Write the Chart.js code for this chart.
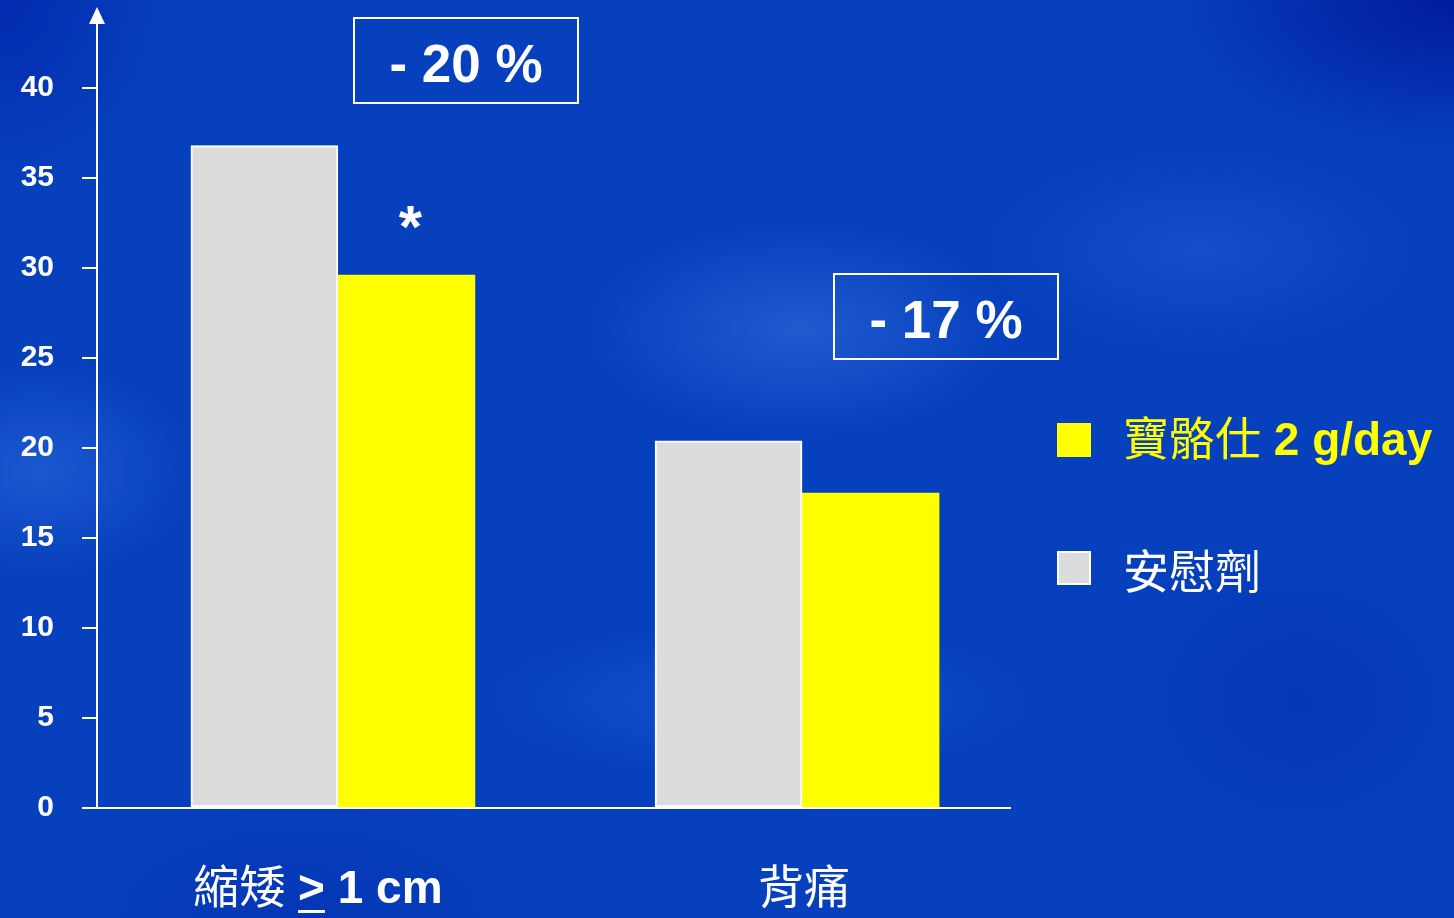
<!DOCTYPE html>
<html>
<head>
<meta charset="utf-8">
<script src="https://cdn.jsdelivr.net/npm/chart.js@4.4.1/dist/chart.umd.min.js"></script>
<style>
html, body { margin: 0; padding: 0; }
body {
    width: 1454px; height: 918px; overflow: hidden;
    background:
        radial-gradient(ellipse 300px 150px at 800px 330px, rgba(70,130,235,0.4), rgba(70,130,235,0) 70%),
        radial-gradient(ellipse 220px 150px at 40px 470px, rgba(60,125,235,0.4), rgba(60,125,235,0) 70%),
        radial-gradient(ellipse 380px 110px at 760px 700px, rgba(40,115,230,0.4), rgba(40,115,230,0) 70%),
        radial-gradient(ellipse 300px 140px at 1200px 250px, rgba(50,110,230,0.3), rgba(50,110,230,0) 70%),
        radial-gradient(ellipse 420px 220px at 1454px 0px, rgba(0,20,150,0.85), rgba(0,20,150,0) 70%),
        radial-gradient(ellipse 260px 280px at 0px 0px, rgba(0,30,165,0.6), rgba(0,30,165,0) 70%),
        radial-gradient(ellipse 400px 200px at 300px 918px, rgba(0,40,170,0.4), rgba(0,40,170,0) 70%),
        radial-gradient(ellipse 300px 250px at 1300px 700px, rgba(0,40,170,0.4), rgba(0,40,170,0) 70%),
        #0640bd;
}
#wrap { position: relative; width: 1454px; height: 918px; }
</style>
</head>
<body>
<div id="wrap"><canvas id="myChart"></canvas></div>
<script>
const categories = ['縮矮 ≥ 1 cm', '背痛'];
const drugName = '寶骼仕 2 g/day';
const placeboName = '安慰劑';
const drugValues = [29.6, 17.5];
const placeboValues = [36.8, 20.4];
const yTicks = [0, 5, 10, 15, 20, 25, 30, 35, 40];
const changeLabels = ['- 20 %', '- 17 %'];
const starLabels = ['*', ''];

const LAT = '"Liberation Sans", Arial, sans-serif';
const CJKFONT = '"Noto Sans CJK TC", "Noto Sans CJK SC", sans-serif';
const CJK = /[\u2E80-\u9FFF\uF900-\uFAFF]/;

// split text into cjk / latin runs, "≥" drawn as underlined ">"
function runs(text) {
    const out = [];
    for (const ch of text) {
        const kind = ch === '≥' ? 'ge' : CJK.test(ch) ? 'cjk' : 'lat';
        const last = out[out.length - 1];
        if (last && last.kind === kind && kind !== 'ge') last.text += ch;
        else out.push({ kind, text: ch });
    }
    return out;
}
function fontFor(kind, size) {
    return kind === 'cjk' ? `400 ${size}px ${CJKFONT}` : `bold ${size}px ${LAT}`;
}
function drawMixed(ctx, text, x, y, size, color, align) {
    const parts = runs(text);
    let total = 0;
    parts.forEach(p => {
        ctx.font = fontFor(p.kind, size);
        p.w = ctx.measureText(p.kind === 'ge' ? '>' : p.text).width;
        total += p.w;
    });
    let cx = align === 'center' ? x - total / 2 : x;
    ctx.fillStyle = color;
    ctx.textAlign = 'left';
    ctx.textBaseline = 'alphabetic';
    parts.forEach(p => {
        ctx.font = fontFor(p.kind, size);
        if (p.kind === 'ge') {
            ctx.fillText('>', cx, y);
            ctx.fillRect(cx, y + 7, p.w, 3);
        } else {
            ctx.fillText(p.text, cx, y);
        }
        cx += p.w;
    });
}

const extras = {
    id: 'extras',
    afterDraw(chart) {
        const ctx = chart.ctx;
        const area = chart.chartArea;
        const x = chart.scales.x;
        ctx.save();

        // y axis extension with arrow head
        ctx.strokeStyle = '#fff';
        ctx.lineWidth = 2;
        ctx.beginPath();
        ctx.moveTo(area.left, area.top);
        ctx.lineTo(area.left, 22);
        ctx.stroke();
        ctx.fillStyle = '#fff';
        ctx.beginPath();
        ctx.moveTo(area.left - 8, 24);
        ctx.lineTo(area.left + 8, 24);
        ctx.lineTo(area.left, 7);
        ctx.closePath();
        ctx.fill();

        // category labels
        categories.forEach((c, i) => {
            const cx = x.getPixelForValue(i) - (i === 0 ? 20 : -2);
            drawMixed(ctx, c, cx, 903, 46, '#fff', 'center');
        });

        // significance star above drug bar
        const drugMeta = chart.getDatasetMeta(1);
        starLabels.forEach((s, i) => {
            if (!s) return;
            const bar = drugMeta.data[i];
            ctx.fillStyle = '#fff';
            ctx.font = `bold 60px ${LAT}`;
            ctx.textAlign = 'center';
            ctx.textBaseline = 'alphabetic';
            ctx.fillText(s, bar.x + 4, bar.y - 28);
        });

        // change boxes
        const boxes = [[354, 18, 224, 85], [834, 274, 224, 85]];
        changeLabels.forEach((t, i) => {
            const [bx, by, bw, bh] = boxes[i];
            ctx.strokeStyle = '#fff';
            ctx.lineWidth = 2;
            ctx.strokeRect(bx, by, bw, bh);
            ctx.fillStyle = '#fff';
            ctx.font = `bold 53px ${LAT}`;
            ctx.textAlign = 'center';
            ctx.textBaseline = 'alphabetic';
            ctx.fillText(t, bx + bw / 2, by + 64);
        });

        // legend
        const items = [chart.data.datasets[1], chart.data.datasets[0]];
        const rows = [[423, 455], [551, 588]];
        items.forEach((ds, i) => {
            const [top, base] = rows[i];
            ctx.fillStyle = ds.backgroundColor;
            ctx.fillRect(1057, top, 34, 34);
            if (ds.borderWidth) {
                ctx.strokeStyle = ds.borderColor;
                ctx.lineWidth = 2;
                ctx.strokeRect(1058, top + 1, 32, 32);
            }
            drawMixed(ctx, ds.label, 1123, base, 46, ds.legendText, 'left');
        });

        ctx.restore();
    }
};

const ctx = document.getElementById('myChart').getContext('2d');
const myChart = new Chart(ctx, {
    type: 'bar',
    data: {
        datasets: [{
            label: placeboName,
            data: placeboValues.map((v, i) => ({ x: i, y: v })),
            backgroundColor: '#dcdcdc',
            borderColor: '#ffffff',
            borderWidth: 2,
            borderSkipped: false,
            barThickness: 147,
            legendText: '#ffffff'
        }, {
            label: drugName,
            data: drugValues.map((v, i) => ({ x: i, y: v })),
            backgroundColor: '#ffff00',
            borderWidth: 0,
            barThickness: 137,
            legendText: '#ffff00'
        }]
    },
    options: {
        responsive: true,
        maintainAspectRatio: false,
        animation: false,
        layout: { padding: { top: 88, right: 444, left: 0, bottom: 0 } },
        plugins: { legend: { display: false }, tooltip: { enabled: false } },
        scales: {
            x: {
                type: 'linear',
                offset: false,
                min: -0.519,
                max: 1.448,
                ticks: { display: false },
                grid: { display: false },
                border: { display: true, color: '#ffffff', width: 2 },
                afterFit: s => { s.height = 110; }
            },
            y: {
                min: 0,
                max: 40,
                afterBuildTicks: s => { s.ticks = yTicks.map(v => ({ value: v })); },
                ticks: {
                    color: '#ffffff',
                    padding: 28,
                    font: { family: LAT, size: 30, weight: 'bold' }
                },
                grid: {
                    drawOnChartArea: false,
                    drawTicks: true,
                    tickLength: 15,
                    color: '#ffffff',
                    lineWidth: 2
                },
                border: { display: true, color: '#ffffff', width: 2 },
                afterFit: s => { s.width = 97; }
            }
        }
    },
    plugins: [extras]
});
</script>
</body>
</html>
